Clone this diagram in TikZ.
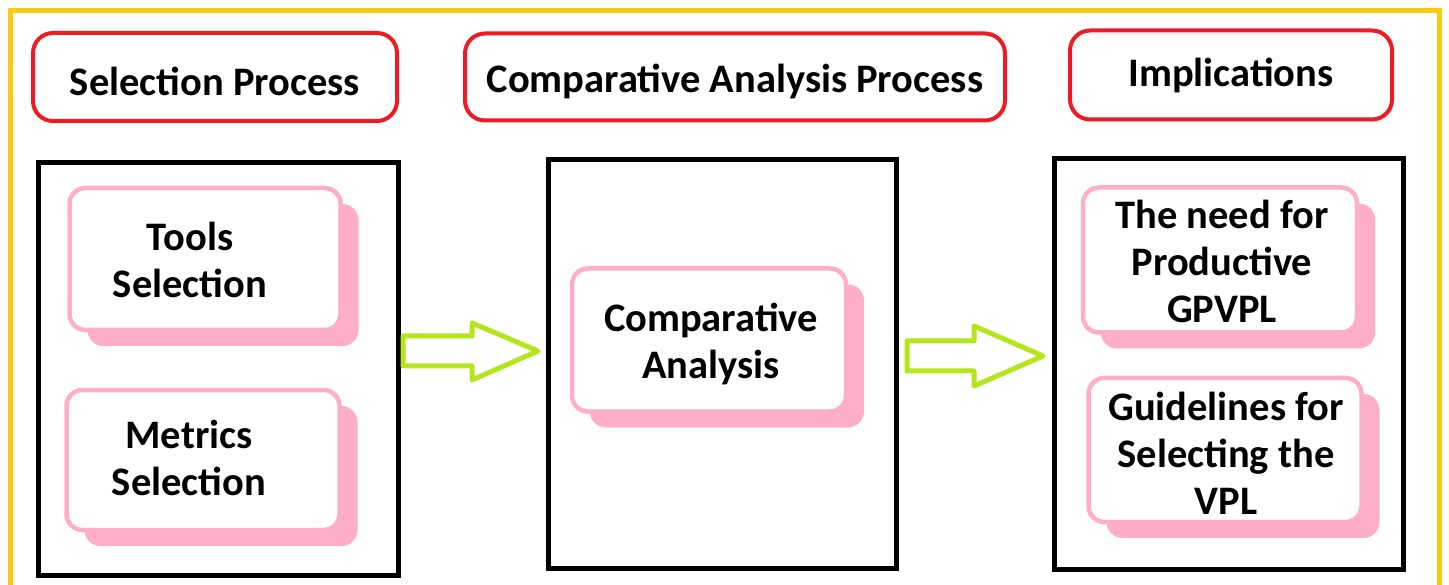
\documentclass[tikz,border=0pt]{standalone}
\usepackage{fontspec}
\setmainfont{Carlito}
\usetikzlibrary{shadows}
\definecolor{frameyellow}{HTML}{FFC90E}
\definecolor{headred}{HTML}{ED1C24}
\definecolor{boxpink}{HTML}{FFAEC9}
\definecolor{arrowgreen}{HTML}{B5E61D}
\tikzset{
  frame/.style={draw=frameyellow, line width=5pt},
  header/.style={draw=headred, line width=4pt, rounded corners=20pt, fill=white,
    font=\fontsize{40.5}{48}\selectfont\bfseries, inner sep=0pt},
  column/.style={draw=black, line width=5pt, fill=white, inner sep=0pt},
  pinkbox/.style={draw=boxpink, line width=4.5pt, rounded corners=16pt, fill=white, inner sep=0pt,
    drop shadow={shadow xshift=18pt, shadow yshift=-16pt, fill=boxpink, opacity=1}},
  boxtext/.style={font=\fontsize{40.5}{47}\selectfont\bfseries, align=center, inner sep=0pt},
  blockarrow/.style={draw=arrowgreen, line width=5pt, line join=round, fill=white},
}
\begin{document}
\begin{tikzpicture}[x=1pt, y=-1pt]
\useasboundingbox (0,0) rectangle (1449,585);
\clip (0,0) rectangle (1449,585);
\draw[frame] (10,11) rectangle (1439,640);

% headers
\node[header, minimum width=364, minimum height=88, text height=44pt, text depth=6pt] (h1) at (215,77) {Selection Process};
\node[header, minimum width=540, minimum height=87, text height=37pt, text depth=6pt] (h2) at (735,77) {Comparative Analysis Process};
\node[header, minimum width=322, minimum height=89] (h3) at (1231,75) {Implications};

% columns
\node[column, minimum width=360, minimum height=412] (c1) at (218,369) {};
\node[column, minimum width=348, minimum height=408] (c2) at (722,364) {};
\node[column, minimum width=349, minimum height=410] (c3) at (1229,364) {};

% pink boxes
\node[pinkbox, minimum width=271, minimum height=142] (b1) at (205,259) {};
\node[boxtext] (t1) at (190,260) {Tools\\Selection};
\node[pinkbox, minimum width=273, minimum height=140] (b2) at (203,460) {};
\node[boxtext] (t2) at (189,458) {Metrics\\Selection};
\node[pinkbox, minimum width=274, minimum height=143] (b3) at (709,340) {};
\node[boxtext] (t3) at (711,344) {Comparative\\Analysis};
\node[pinkbox, minimum width=274, minimum height=145] (b4) at (1220,260) {};
\node[boxtext] (t4) at (1222,261) {The need for\\Productive\\GPVPL};
\node[pinkbox, minimum width=273, minimum height=144] (b5) at (1225,450) {};
\node[boxtext] (t5) at (1226,453) {Guidelines for\\Selecting the\\VPL};

% block arrows
\coordinate (a1) at (403,351);
\draw[blockarrow] (a1) ++(0,-15) -- ++(69,0) -- ++(0,-13) -- (538,351) -- (472,380) -- ++(0,-14) -- ++(-69,0) -- cycle;
\coordinate (a2) at (907,356);
\draw[blockarrow] (a2) ++(0,-15) -- ++(67,0) -- ++(0,-15) -- (1043,356) -- (974,386) -- ++(0,-15) -- ++(-67,0) -- cycle;
\end{tikzpicture}
\end{document}
